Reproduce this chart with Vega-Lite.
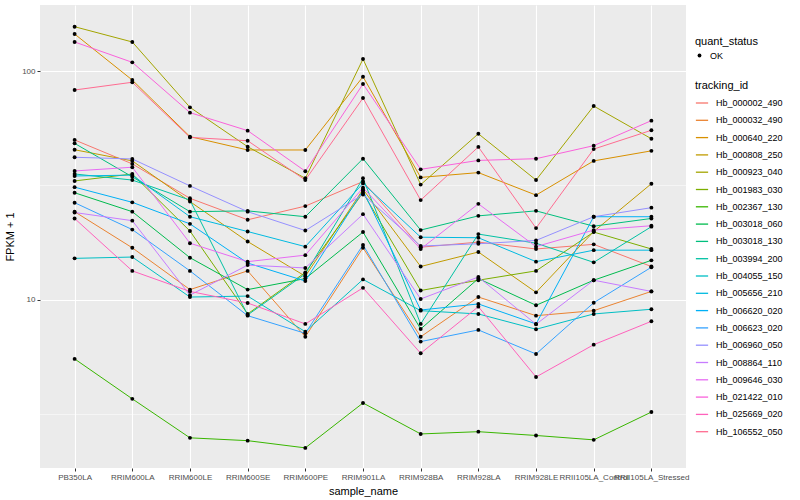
{
  "$schema": "https://vega.github.io/schema/vega-lite/v6.json",
  "width": 646,
  "height": 463,
  "autosize": {"type": "none"},
  "padding": {"left": 40, "top": 5, "right": 114, "bottom": 32},
  "background": "white",
  "config": {
    "view": {"fill": "#EBEBEB", "stroke": null},
    "font": "Liberation Sans",
    "axis": {
      "gridColor": "white", "gridWidth": 1.1, "domain": false,
      "tickColor": "#333333", "tickSize": 3, "labelPadding": 2,
      "labelColor": "#4D4D4D", "labelFontSize": 8, "labelFont": "Liberation Sans Narrow, Liberation Sans",
      "titleFontSize": 11, "titleFontWeight": "normal", "titleColor": "black", "titleFont": "Liberation Sans"
    },
    "legend": {
      "titleFontSize": 11, "titleFontWeight": "normal", "titleColor": "black", "titleFont": "Liberation Sans",
      "labelFontSize": 9, "labelColor": "black", "labelFont": "Liberation Sans"
    }
  },
  "datasets": {
    "grid": [{"minor": 3.1623}, {"minor": 31.623}],
    "expr": [
      {"tracking_id":"Hb_000002_490","sample_name":"PB350LA","FPKM":50.0,"quant_status":"OK"},
      {"tracking_id":"Hb_000002_490","sample_name":"RRIM600LA","FPKM":39.3,"quant_status":"OK"},
      {"tracking_id":"Hb_000002_490","sample_name":"RRIM600LE","FPKM":27.8,"quant_status":"OK"},
      {"tracking_id":"Hb_000002_490","sample_name":"RRIM600SE","FPKM":22.4,"quant_status":"OK"},
      {"tracking_id":"Hb_000002_490","sample_name":"RRIM600PE","FPKM":25.7,"quant_status":"OK"},
      {"tracking_id":"Hb_000002_490","sample_name":"RRIM901LA","FPKM":32.9,"quant_status":"OK"},
      {"tracking_id":"Hb_000002_490","sample_name":"RRIM928BA","FPKM":17.0,"quant_status":"OK"},
      {"tracking_id":"Hb_000002_490","sample_name":"RRIM928LA","FPKM":17.9,"quant_status":"OK"},
      {"tracking_id":"Hb_000002_490","sample_name":"RRIM928LE","FPKM":16.7,"quant_status":"OK"},
      {"tracking_id":"Hb_000002_490","sample_name":"RRII105LA_Control","FPKM":17.5,"quant_status":"OK"},
      {"tracking_id":"Hb_000002_490","sample_name":"RRII105LA_Stressed","FPKM":14.0,"quant_status":"OK"},

      {"tracking_id":"Hb_000032_490","sample_name":"PB350LA","FPKM":24.3,"quant_status":"OK"},
      {"tracking_id":"Hb_000032_490","sample_name":"RRIM600LA","FPKM":16.9,"quant_status":"OK"},
      {"tracking_id":"Hb_000032_490","sample_name":"RRIM600LE","FPKM":11.1,"quant_status":"OK"},
      {"tracking_id":"Hb_000032_490","sample_name":"RRIM600SE","FPKM":13.4,"quant_status":"OK"},
      {"tracking_id":"Hb_000032_490","sample_name":"RRIM600PE","FPKM":6.91,"quant_status":"OK"},
      {"tracking_id":"Hb_000032_490","sample_name":"RRIM901LA","FPKM":16.9,"quant_status":"OK"},
      {"tracking_id":"Hb_000032_490","sample_name":"RRIM928BA","FPKM":6.91,"quant_status":"OK"},
      {"tracking_id":"Hb_000032_490","sample_name":"RRIM928LA","FPKM":10.3,"quant_status":"OK"},
      {"tracking_id":"Hb_000032_490","sample_name":"RRIM928LE","FPKM":8.54,"quant_status":"OK"},
      {"tracking_id":"Hb_000032_490","sample_name":"RRII105LA_Control","FPKM":8.98,"quant_status":"OK"},
      {"tracking_id":"Hb_000032_490","sample_name":"RRII105LA_Stressed","FPKM":10.9,"quant_status":"OK"},

      {"tracking_id":"Hb_000640_220","sample_name":"PB350LA","FPKM":145.1,"quant_status":"OK"},
      {"tracking_id":"Hb_000640_220","sample_name":"RRIM600LA","FPKM":91.3,"quant_status":"OK"},
      {"tracking_id":"Hb_000640_220","sample_name":"RRIM600LE","FPKM":51.7,"quant_status":"OK"},
      {"tracking_id":"Hb_000640_220","sample_name":"RRIM600SE","FPKM":45.2,"quant_status":"OK"},
      {"tracking_id":"Hb_000640_220","sample_name":"RRIM600PE","FPKM":45.2,"quant_status":"OK"},
      {"tracking_id":"Hb_000640_220","sample_name":"RRIM901LA","FPKM":94.4,"quant_status":"OK"},
      {"tracking_id":"Hb_000640_220","sample_name":"RRIM928BA","FPKM":34.3,"quant_status":"OK"},
      {"tracking_id":"Hb_000640_220","sample_name":"RRIM928LA","FPKM":36.0,"quant_status":"OK"},
      {"tracking_id":"Hb_000640_220","sample_name":"RRIM928LE","FPKM":28.7,"quant_status":"OK"},
      {"tracking_id":"Hb_000640_220","sample_name":"RRII105LA_Control","FPKM":40.5,"quant_status":"OK"},
      {"tracking_id":"Hb_000640_220","sample_name":"RRII105LA_Stressed","FPKM":44.8,"quant_status":"OK"},

      {"tracking_id":"Hb_000808_250","sample_name":"PB350LA","FPKM":45.3,"quant_status":"OK"},
      {"tracking_id":"Hb_000808_250","sample_name":"RRIM600LA","FPKM":40.5,"quant_status":"OK"},
      {"tracking_id":"Hb_000808_250","sample_name":"RRIM600LE","FPKM":26.9,"quant_status":"OK"},
      {"tracking_id":"Hb_000808_250","sample_name":"RRIM600SE","FPKM":18.0,"quant_status":"OK"},
      {"tracking_id":"Hb_000808_250","sample_name":"RRIM600PE","FPKM":12.7,"quant_status":"OK"},
      {"tracking_id":"Hb_000808_250","sample_name":"RRIM901LA","FPKM":30.4,"quant_status":"OK"},
      {"tracking_id":"Hb_000808_250","sample_name":"RRIM928BA","FPKM":14.0,"quant_status":"OK"},
      {"tracking_id":"Hb_000808_250","sample_name":"RRIM928LA","FPKM":16.2,"quant_status":"OK"},
      {"tracking_id":"Hb_000808_250","sample_name":"RRIM928LE","FPKM":10.8,"quant_status":"OK"},
      {"tracking_id":"Hb_000808_250","sample_name":"RRII105LA_Control","FPKM":19.9,"quant_status":"OK"},
      {"tracking_id":"Hb_000808_250","sample_name":"RRII105LA_Stressed","FPKM":32.2,"quant_status":"OK"},

      {"tracking_id":"Hb_000923_040","sample_name":"PB350LA","FPKM":156.1,"quant_status":"OK"},
      {"tracking_id":"Hb_000923_040","sample_name":"RRIM600LA","FPKM":133.9,"quant_status":"OK"},
      {"tracking_id":"Hb_000923_040","sample_name":"RRIM600LE","FPKM":69.4,"quant_status":"OK"},
      {"tracking_id":"Hb_000923_040","sample_name":"RRIM600SE","FPKM":46.7,"quant_status":"OK"},
      {"tracking_id":"Hb_000923_040","sample_name":"RRIM600PE","FPKM":34.0,"quant_status":"OK"},
      {"tracking_id":"Hb_000923_040","sample_name":"RRIM901LA","FPKM":112.8,"quant_status":"OK"},
      {"tracking_id":"Hb_000923_040","sample_name":"RRIM928BA","FPKM":31.9,"quant_status":"OK"},
      {"tracking_id":"Hb_000923_040","sample_name":"RRIM928LA","FPKM":53.2,"quant_status":"OK"},
      {"tracking_id":"Hb_000923_040","sample_name":"RRIM928LE","FPKM":33.4,"quant_status":"OK"},
      {"tracking_id":"Hb_000923_040","sample_name":"RRII105LA_Control","FPKM":70.3,"quant_status":"OK"},
      {"tracking_id":"Hb_000923_040","sample_name":"RRII105LA_Stressed","FPKM":50.6,"quant_status":"OK"},

      {"tracking_id":"Hb_001983_030","sample_name":"PB350LA","FPKM":33.1,"quant_status":"OK"},
      {"tracking_id":"Hb_001983_030","sample_name":"RRIM600LA","FPKM":35.5,"quant_status":"OK"},
      {"tracking_id":"Hb_001983_030","sample_name":"RRIM600LE","FPKM":20.0,"quant_status":"OK"},
      {"tracking_id":"Hb_001983_030","sample_name":"RRIM600SE","FPKM":8.69,"quant_status":"OK"},
      {"tracking_id":"Hb_001983_030","sample_name":"RRIM600PE","FPKM":13.2,"quant_status":"OK"},
      {"tracking_id":"Hb_001983_030","sample_name":"RRIM901LA","FPKM":29.4,"quant_status":"OK"},
      {"tracking_id":"Hb_001983_030","sample_name":"RRIM928BA","FPKM":11.0,"quant_status":"OK"},
      {"tracking_id":"Hb_001983_030","sample_name":"RRIM928LA","FPKM":12.2,"quant_status":"OK"},
      {"tracking_id":"Hb_001983_030","sample_name":"RRIM928LE","FPKM":13.4,"quant_status":"OK"},
      {"tracking_id":"Hb_001983_030","sample_name":"RRII105LA_Control","FPKM":19.8,"quant_status":"OK"},
      {"tracking_id":"Hb_001983_030","sample_name":"RRII105LA_Stressed","FPKM":16.7,"quant_status":"OK"},

      {"tracking_id":"Hb_002367_130","sample_name":"PB350LA","FPKM":5.53,"quant_status":"OK"},
      {"tracking_id":"Hb_002367_130","sample_name":"RRIM600LA","FPKM":3.70,"quant_status":"OK"},
      {"tracking_id":"Hb_002367_130","sample_name":"RRIM600LE","FPKM":2.50,"quant_status":"OK"},
      {"tracking_id":"Hb_002367_130","sample_name":"RRIM600SE","FPKM":2.43,"quant_status":"OK"},
      {"tracking_id":"Hb_002367_130","sample_name":"RRIM600PE","FPKM":2.26,"quant_status":"OK"},
      {"tracking_id":"Hb_002367_130","sample_name":"RRIM901LA","FPKM":3.55,"quant_status":"OK"},
      {"tracking_id":"Hb_002367_130","sample_name":"RRIM928BA","FPKM":2.60,"quant_status":"OK"},
      {"tracking_id":"Hb_002367_130","sample_name":"RRIM928LA","FPKM":2.66,"quant_status":"OK"},
      {"tracking_id":"Hb_002367_130","sample_name":"RRIM928LE","FPKM":2.56,"quant_status":"OK"},
      {"tracking_id":"Hb_002367_130","sample_name":"RRII105LA_Control","FPKM":2.45,"quant_status":"OK"},
      {"tracking_id":"Hb_002367_130","sample_name":"RRII105LA_Stressed","FPKM":3.24,"quant_status":"OK"},

      {"tracking_id":"Hb_003018_060","sample_name":"PB350LA","FPKM":29.4,"quant_status":"OK"},
      {"tracking_id":"Hb_003018_060","sample_name":"RRIM600LA","FPKM":24.3,"quant_status":"OK"},
      {"tracking_id":"Hb_003018_060","sample_name":"RRIM600LE","FPKM":15.3,"quant_status":"OK"},
      {"tracking_id":"Hb_003018_060","sample_name":"RRIM600SE","FPKM":11.1,"quant_status":"OK"},
      {"tracking_id":"Hb_003018_060","sample_name":"RRIM600PE","FPKM":12.4,"quant_status":"OK"},
      {"tracking_id":"Hb_003018_060","sample_name":"RRIM901LA","FPKM":19.8,"quant_status":"OK"},
      {"tracking_id":"Hb_003018_060","sample_name":"RRIM928BA","FPKM":7.47,"quant_status":"OK"},
      {"tracking_id":"Hb_003018_060","sample_name":"RRIM928LA","FPKM":12.4,"quant_status":"OK"},
      {"tracking_id":"Hb_003018_060","sample_name":"RRIM928LE","FPKM":9.48,"quant_status":"OK"},
      {"tracking_id":"Hb_003018_060","sample_name":"RRII105LA_Control","FPKM":12.2,"quant_status":"OK"},
      {"tracking_id":"Hb_003018_060","sample_name":"RRII105LA_Stressed","FPKM":14.9,"quant_status":"OK"},

      {"tracking_id":"Hb_003018_130","sample_name":"PB350LA","FPKM":48.3,"quant_status":"OK"},
      {"tracking_id":"Hb_003018_130","sample_name":"RRIM600LA","FPKM":34.5,"quant_status":"OK"},
      {"tracking_id":"Hb_003018_130","sample_name":"RRIM600LE","FPKM":24.3,"quant_status":"OK"},
      {"tracking_id":"Hb_003018_130","sample_name":"RRIM600SE","FPKM":24.5,"quant_status":"OK"},
      {"tracking_id":"Hb_003018_130","sample_name":"RRIM600PE","FPKM":23.1,"quant_status":"OK"},
      {"tracking_id":"Hb_003018_130","sample_name":"RRIM901LA","FPKM":41.4,"quant_status":"OK"},
      {"tracking_id":"Hb_003018_130","sample_name":"RRIM928BA","FPKM":20.2,"quant_status":"OK"},
      {"tracking_id":"Hb_003018_130","sample_name":"RRIM928LA","FPKM":23.3,"quant_status":"OK"},
      {"tracking_id":"Hb_003018_130","sample_name":"RRIM928LE","FPKM":24.5,"quant_status":"OK"},
      {"tracking_id":"Hb_003018_130","sample_name":"RRII105LA_Control","FPKM":21.0,"quant_status":"OK"},
      {"tracking_id":"Hb_003018_130","sample_name":"RRII105LA_Stressed","FPKM":22.7,"quant_status":"OK"},

      {"tracking_id":"Hb_003994_200","sample_name":"PB350LA","FPKM":35.5,"quant_status":"OK"},
      {"tracking_id":"Hb_003994_200","sample_name":"RRIM600LA","FPKM":33.4,"quant_status":"OK"},
      {"tracking_id":"Hb_003994_200","sample_name":"RRIM600LE","FPKM":27.3,"quant_status":"OK"},
      {"tracking_id":"Hb_003994_200","sample_name":"RRIM600SE","FPKM":8.60,"quant_status":"OK"},
      {"tracking_id":"Hb_003994_200","sample_name":"RRIM600PE","FPKM":13.0,"quant_status":"OK"},
      {"tracking_id":"Hb_003994_200","sample_name":"RRIM901LA","FPKM":34.0,"quant_status":"OK"},
      {"tracking_id":"Hb_003994_200","sample_name":"RRIM928BA","FPKM":7.86,"quant_status":"OK"},
      {"tracking_id":"Hb_003994_200","sample_name":"RRIM928LA","FPKM":19.4,"quant_status":"OK"},
      {"tracking_id":"Hb_003994_200","sample_name":"RRIM928LE","FPKM":17.7,"quant_status":"OK"},
      {"tracking_id":"Hb_003994_200","sample_name":"RRII105LA_Control","FPKM":14.6,"quant_status":"OK"},
      {"tracking_id":"Hb_003994_200","sample_name":"RRII105LA_Stressed","FPKM":20.9,"quant_status":"OK"},

      {"tracking_id":"Hb_004055_150","sample_name":"PB350LA","FPKM":15.2,"quant_status":"OK"},
      {"tracking_id":"Hb_004055_150","sample_name":"RRIM600LA","FPKM":15.4,"quant_status":"OK"},
      {"tracking_id":"Hb_004055_150","sample_name":"RRIM600LE","FPKM":10.3,"quant_status":"OK"},
      {"tracking_id":"Hb_004055_150","sample_name":"RRIM600SE","FPKM":10.4,"quant_status":"OK"},
      {"tracking_id":"Hb_004055_150","sample_name":"RRIM600PE","FPKM":7.27,"quant_status":"OK"},
      {"tracking_id":"Hb_004055_150","sample_name":"RRIM901LA","FPKM":12.3,"quant_status":"OK"},
      {"tracking_id":"Hb_004055_150","sample_name":"RRIM928BA","FPKM":8.98,"quant_status":"OK"},
      {"tracking_id":"Hb_004055_150","sample_name":"RRIM928LA","FPKM":8.69,"quant_status":"OK"},
      {"tracking_id":"Hb_004055_150","sample_name":"RRIM928LE","FPKM":7.45,"quant_status":"OK"},
      {"tracking_id":"Hb_004055_150","sample_name":"RRII105LA_Control","FPKM":8.69,"quant_status":"OK"},
      {"tracking_id":"Hb_004055_150","sample_name":"RRII105LA_Stressed","FPKM":9.11,"quant_status":"OK"},

      {"tracking_id":"Hb_005656_210","sample_name":"PB350LA","FPKM":34.8,"quant_status":"OK"},
      {"tracking_id":"Hb_005656_210","sample_name":"RRIM600LA","FPKM":35.1,"quant_status":"OK"},
      {"tracking_id":"Hb_005656_210","sample_name":"RRIM600LE","FPKM":23.1,"quant_status":"OK"},
      {"tracking_id":"Hb_005656_210","sample_name":"RRIM600SE","FPKM":19.9,"quant_status":"OK"},
      {"tracking_id":"Hb_005656_210","sample_name":"RRIM600PE","FPKM":17.1,"quant_status":"OK"},
      {"tracking_id":"Hb_005656_210","sample_name":"RRIM901LA","FPKM":32.3,"quant_status":"OK"},
      {"tracking_id":"Hb_005656_210","sample_name":"RRIM928BA","FPKM":18.8,"quant_status":"OK"},
      {"tracking_id":"Hb_005656_210","sample_name":"RRIM928LA","FPKM":18.7,"quant_status":"OK"},
      {"tracking_id":"Hb_005656_210","sample_name":"RRIM928LE","FPKM":14.7,"quant_status":"OK"},
      {"tracking_id":"Hb_005656_210","sample_name":"RRII105LA_Control","FPKM":16.5,"quant_status":"OK"},
      {"tracking_id":"Hb_005656_210","sample_name":"RRII105LA_Stressed","FPKM":16.5,"quant_status":"OK"},

      {"tracking_id":"Hb_006620_020","sample_name":"PB350LA","FPKM":31.1,"quant_status":"OK"},
      {"tracking_id":"Hb_006620_020","sample_name":"RRIM600LA","FPKM":26.7,"quant_status":"OK"},
      {"tracking_id":"Hb_006620_020","sample_name":"RRIM600LE","FPKM":21.5,"quant_status":"OK"},
      {"tracking_id":"Hb_006620_020","sample_name":"RRIM600SE","FPKM":14.5,"quant_status":"OK"},
      {"tracking_id":"Hb_006620_020","sample_name":"RRIM600PE","FPKM":12.1,"quant_status":"OK"},
      {"tracking_id":"Hb_006620_020","sample_name":"RRIM901LA","FPKM":30.0,"quant_status":"OK"},
      {"tracking_id":"Hb_006620_020","sample_name":"RRIM928BA","FPKM":9.04,"quant_status":"OK"},
      {"tracking_id":"Hb_006620_020","sample_name":"RRIM928LA","FPKM":9.61,"quant_status":"OK"},
      {"tracking_id":"Hb_006620_020","sample_name":"RRIM928LE","FPKM":7.86,"quant_status":"OK"},
      {"tracking_id":"Hb_006620_020","sample_name":"RRII105LA_Control","FPKM":23.1,"quant_status":"OK"},
      {"tracking_id":"Hb_006620_020","sample_name":"RRII105LA_Stressed","FPKM":23.1,"quant_status":"OK"},

      {"tracking_id":"Hb_006623_020","sample_name":"PB350LA","FPKM":26.6,"quant_status":"OK"},
      {"tracking_id":"Hb_006623_020","sample_name":"RRIM600LA","FPKM":20.3,"quant_status":"OK"},
      {"tracking_id":"Hb_006623_020","sample_name":"RRIM600LE","FPKM":13.4,"quant_status":"OK"},
      {"tracking_id":"Hb_006623_020","sample_name":"RRIM600SE","FPKM":8.54,"quant_status":"OK"},
      {"tracking_id":"Hb_006623_020","sample_name":"RRIM600PE","FPKM":7.15,"quant_status":"OK"},
      {"tracking_id":"Hb_006623_020","sample_name":"RRIM901LA","FPKM":17.4,"quant_status":"OK"},
      {"tracking_id":"Hb_006623_020","sample_name":"RRIM928BA","FPKM":6.58,"quant_status":"OK"},
      {"tracking_id":"Hb_006623_020","sample_name":"RRIM928LA","FPKM":7.40,"quant_status":"OK"},
      {"tracking_id":"Hb_006623_020","sample_name":"RRIM928LE","FPKM":5.81,"quant_status":"OK"},
      {"tracking_id":"Hb_006623_020","sample_name":"RRII105LA_Control","FPKM":9.73,"quant_status":"OK"},
      {"tracking_id":"Hb_006623_020","sample_name":"RRII105LA_Stressed","FPKM":13.9,"quant_status":"OK"},

      {"tracking_id":"Hb_006960_050","sample_name":"PB350LA","FPKM":42.0,"quant_status":"OK"},
      {"tracking_id":"Hb_006960_050","sample_name":"RRIM600LA","FPKM":41.3,"quant_status":"OK"},
      {"tracking_id":"Hb_006960_050","sample_name":"RRIM600LE","FPKM":31.5,"quant_status":"OK"},
      {"tracking_id":"Hb_006960_050","sample_name":"RRIM600SE","FPKM":24.3,"quant_status":"OK"},
      {"tracking_id":"Hb_006960_050","sample_name":"RRIM600PE","FPKM":20.1,"quant_status":"OK"},
      {"tracking_id":"Hb_006960_050","sample_name":"RRIM901LA","FPKM":28.9,"quant_status":"OK"},
      {"tracking_id":"Hb_006960_050","sample_name":"RRIM928BA","FPKM":17.2,"quant_status":"OK"},
      {"tracking_id":"Hb_006960_050","sample_name":"RRIM928LA","FPKM":17.6,"quant_status":"OK"},
      {"tracking_id":"Hb_006960_050","sample_name":"RRIM928LE","FPKM":18.2,"quant_status":"OK"},
      {"tracking_id":"Hb_006960_050","sample_name":"RRII105LA_Control","FPKM":23.1,"quant_status":"OK"},
      {"tracking_id":"Hb_006960_050","sample_name":"RRII105LA_Stressed","FPKM":25.3,"quant_status":"OK"},

      {"tracking_id":"Hb_008864_110","sample_name":"PB350LA","FPKM":24.1,"quant_status":"OK"},
      {"tracking_id":"Hb_008864_110","sample_name":"RRIM600LA","FPKM":22.2,"quant_status":"OK"},
      {"tracking_id":"Hb_008864_110","sample_name":"RRIM600LE","FPKM":10.5,"quant_status":"OK"},
      {"tracking_id":"Hb_008864_110","sample_name":"RRIM600SE","FPKM":14.2,"quant_status":"OK"},
      {"tracking_id":"Hb_008864_110","sample_name":"RRIM600PE","FPKM":13.8,"quant_status":"OK"},
      {"tracking_id":"Hb_008864_110","sample_name":"RRIM901LA","FPKM":23.7,"quant_status":"OK"},
      {"tracking_id":"Hb_008864_110","sample_name":"RRIM928BA","FPKM":10.1,"quant_status":"OK"},
      {"tracking_id":"Hb_008864_110","sample_name":"RRIM928LA","FPKM":12.6,"quant_status":"OK"},
      {"tracking_id":"Hb_008864_110","sample_name":"RRIM928LE","FPKM":7.83,"quant_status":"OK"},
      {"tracking_id":"Hb_008864_110","sample_name":"RRII105LA_Control","FPKM":12.2,"quant_status":"OK"},
      {"tracking_id":"Hb_008864_110","sample_name":"RRII105LA_Stressed","FPKM":10.9,"quant_status":"OK"},

      {"tracking_id":"Hb_009646_030","sample_name":"PB350LA","FPKM":36.6,"quant_status":"OK"},
      {"tracking_id":"Hb_009646_030","sample_name":"RRIM600LA","FPKM":38.0,"quant_status":"OK"},
      {"tracking_id":"Hb_009646_030","sample_name":"RRIM600LE","FPKM":17.7,"quant_status":"OK"},
      {"tracking_id":"Hb_009646_030","sample_name":"RRIM600SE","FPKM":14.7,"quant_status":"OK"},
      {"tracking_id":"Hb_009646_030","sample_name":"RRIM600PE","FPKM":15.7,"quant_status":"OK"},
      {"tracking_id":"Hb_009646_030","sample_name":"RRIM901LA","FPKM":30.9,"quant_status":"OK"},
      {"tracking_id":"Hb_009646_030","sample_name":"RRIM928BA","FPKM":16.7,"quant_status":"OK"},
      {"tracking_id":"Hb_009646_030","sample_name":"RRIM928LA","FPKM":26.3,"quant_status":"OK"},
      {"tracking_id":"Hb_009646_030","sample_name":"RRIM928LE","FPKM":17.1,"quant_status":"OK"},
      {"tracking_id":"Hb_009646_030","sample_name":"RRII105LA_Control","FPKM":20.2,"quant_status":"OK"},
      {"tracking_id":"Hb_009646_030","sample_name":"RRII105LA_Stressed","FPKM":21.1,"quant_status":"OK"},

      {"tracking_id":"Hb_021422_010","sample_name":"PB350LA","FPKM":133.9,"quant_status":"OK"},
      {"tracking_id":"Hb_021422_010","sample_name":"RRIM600LA","FPKM":109.1,"quant_status":"OK"},
      {"tracking_id":"Hb_021422_010","sample_name":"RRIM600LE","FPKM":65.8,"quant_status":"OK"},
      {"tracking_id":"Hb_021422_010","sample_name":"RRIM600SE","FPKM":54.9,"quant_status":"OK"},
      {"tracking_id":"Hb_021422_010","sample_name":"RRIM600PE","FPKM":36.5,"quant_status":"OK"},
      {"tracking_id":"Hb_021422_010","sample_name":"RRIM901LA","FPKM":87.8,"quant_status":"OK"},
      {"tracking_id":"Hb_021422_010","sample_name":"RRIM928BA","FPKM":37.2,"quant_status":"OK"},
      {"tracking_id":"Hb_021422_010","sample_name":"RRIM928LA","FPKM":40.7,"quant_status":"OK"},
      {"tracking_id":"Hb_021422_010","sample_name":"RRIM928LE","FPKM":41.4,"quant_status":"OK"},
      {"tracking_id":"Hb_021422_010","sample_name":"RRII105LA_Control","FPKM":47.2,"quant_status":"OK"},
      {"tracking_id":"Hb_021422_010","sample_name":"RRII105LA_Stressed","FPKM":60.7,"quant_status":"OK"},

      {"tracking_id":"Hb_025669_020","sample_name":"PB350LA","FPKM":22.7,"quant_status":"OK"},
      {"tracking_id":"Hb_025669_020","sample_name":"RRIM600LA","FPKM":13.4,"quant_status":"OK"},
      {"tracking_id":"Hb_025669_020","sample_name":"RRIM600LE","FPKM":10.9,"quant_status":"OK"},
      {"tracking_id":"Hb_025669_020","sample_name":"RRIM600SE","FPKM":9.70,"quant_status":"OK"},
      {"tracking_id":"Hb_025669_020","sample_name":"RRIM600PE","FPKM":7.86,"quant_status":"OK"},
      {"tracking_id":"Hb_025669_020","sample_name":"RRIM901LA","FPKM":11.3,"quant_status":"OK"},
      {"tracking_id":"Hb_025669_020","sample_name":"RRIM928BA","FPKM":5.85,"quant_status":"OK"},
      {"tracking_id":"Hb_025669_020","sample_name":"RRIM928LA","FPKM":9.35,"quant_status":"OK"},
      {"tracking_id":"Hb_025669_020","sample_name":"RRIM928LE","FPKM":4.61,"quant_status":"OK"},
      {"tracking_id":"Hb_025669_020","sample_name":"RRII105LA_Control","FPKM":6.38,"quant_status":"OK"},
      {"tracking_id":"Hb_025669_020","sample_name":"RRII105LA_Stressed","FPKM":8.07,"quant_status":"OK"},

      {"tracking_id":"Hb_106552_050","sample_name":"PB350LA","FPKM":82.6,"quant_status":"OK"},
      {"tracking_id":"Hb_106552_050","sample_name":"RRIM600LA","FPKM":89.3,"quant_status":"OK"},
      {"tracking_id":"Hb_106552_050","sample_name":"RRIM600LE","FPKM":51.3,"quant_status":"OK"},
      {"tracking_id":"Hb_106552_050","sample_name":"RRIM600SE","FPKM":49.6,"quant_status":"OK"},
      {"tracking_id":"Hb_106552_050","sample_name":"RRIM600PE","FPKM":33.4,"quant_status":"OK"},
      {"tracking_id":"Hb_106552_050","sample_name":"RRIM901LA","FPKM":76.2,"quant_status":"OK"},
      {"tracking_id":"Hb_106552_050","sample_name":"RRIM928BA","FPKM":27.3,"quant_status":"OK"},
      {"tracking_id":"Hb_106552_050","sample_name":"RRIM928LA","FPKM":46.6,"quant_status":"OK"},
      {"tracking_id":"Hb_106552_050","sample_name":"RRIM928LE","FPKM":20.6,"quant_status":"OK"},
      {"tracking_id":"Hb_106552_050","sample_name":"RRII105LA_Control","FPKM":45.6,"quant_status":"OK"},
      {"tracking_id":"Hb_106552_050","sample_name":"RRII105LA_Stressed","FPKM":55.1,"quant_status":"OK"}
    ]
  },
  "layer": [
    {
      "data": {"name": "grid"},
      "mark": {"type": "rule", "color": "white", "strokeWidth": 0.5},
      "encoding": {
        "y": {"field": "minor", "type": "quantitative",
              "scale": {"type": "log", "domain": [1.846, 194.2], "nice": false, "zero": false},
              "axis": {"values": [10, 100], "title": "FPKM + 1", "titlePadding": 6, "format": "d", "grid": true}}
      }
    },
    {
      "data": {"name": "expr"},
      "mark": {"type": "line", "strokeWidth": 1},
      "encoding": {
        "x": {"field": "sample_name", "type": "nominal",
              "sort": ["PB350LA","RRIM600LA","RRIM600LE","RRIM600SE","RRIM600PE","RRIM901LA","RRIM928BA","RRIM928LA","RRIM928LE","RRII105LA_Control","RRII105LA_Stressed"],
              "scale": {"type": "point", "padding": 0.6},
              "axis": {"labelAngle": 0, "grid": true, "title": "sample_name", "titlePadding": 4, "labelOverlap": false}},
        "y": {"field": "FPKM", "type": "quantitative",
              "scale": {"type": "log", "domain": [1.846, 194.2], "nice": false, "zero": false},
              "axis": {"values": [10, 100], "title": "FPKM + 1", "titlePadding": 6, "format": "d", "grid": true}},
        "color": {"field": "tracking_id", "type": "nominal",
                  "scale": {"domain": ["Hb_000002_490","Hb_000032_490","Hb_000640_220","Hb_000808_250","Hb_000923_040","Hb_001983_030","Hb_002367_130","Hb_003018_060","Hb_003018_130","Hb_003994_200","Hb_004055_150","Hb_005656_210","Hb_006620_020","Hb_006623_020","Hb_006960_050","Hb_008864_110","Hb_009646_030","Hb_021422_010","Hb_025669_020","Hb_106552_050"],
                            "range": ["#F8766D","#EA8331","#D89000","#C09B00","#A3A500","#7CAE00","#39B600","#00BB4E","#00BF7D","#00C1A3","#00BFC4","#00BAE0","#00B0F6","#35A2FF","#9590FF","#C77CFF","#E76BF3","#FA62DB","#FF62BC","#FF6C91"]},
                  "legend": {"orient": "none", "legendX": 655, "legendY": 75, "symbolType": "stroke", "symbolStrokeWidth": 1.3, "symbolSize": 150, "rowPadding": 5.3, "titlePadding": 5, "labelOffset": 7, "labelLimit": 200}},
        "detail": {"field": "tracking_id"}
      }
    },
    {
      "data": {"name": "expr"},
      "mark": {"type": "point", "filled": true, "color": "black", "size": 15, "opacity": 1},
      "encoding": {
        "x": {"field": "sample_name", "type": "nominal",
              "sort": ["PB350LA","RRIM600LA","RRIM600LE","RRIM600SE","RRIM600PE","RRIM901LA","RRIM928BA","RRIM928LA","RRIM928LE","RRII105LA_Control","RRII105LA_Stressed"]},
        "y": {"field": "FPKM", "type": "quantitative"},
        "shape": {"field": "quant_status", "type": "nominal",
                  "scale": {"range": ["circle"]},
                  "legend": {"orient": "none", "legendX": 655, "legendY": 31, "symbolSize": 15, "symbolFillColor": "black", "symbolStrokeColor": "black", "titlePadding": 4, "labelOffset": 6}}
      }
    }
  ]
}
